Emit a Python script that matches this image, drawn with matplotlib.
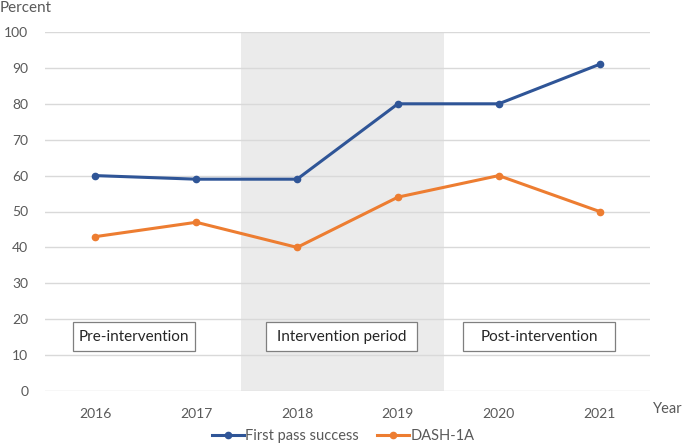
import matplotlib.pyplot as plt
from matplotlib.patches import Rectangle

plt.rcParams['font.family'] = ['Lato', 'DejaVu Sans']

# Data
years = ["2016", "2017", "2018", "2019", "2020", "2021"]
first_pass = [60, 59, 59, 80, 80, 91]
dash_1a = [43, 47, 40, 54, 60, 50]
yticks = list(range(0, 101, 10))
period_labels = ["Pre-intervention", "Intervention period", "Post-intervention"]

BLUE = "#2F5597"
ORANGE = "#ED7D31"
GRID = "#D9D9D9"
TEXT = "#595959"

W, H = 685, 446
fig = plt.figure(figsize=(W / 100, H / 100), dpi=100)
ax = fig.add_axes([45 / W, (H - 391) / H, (650 - 45) / W, (391 - 32) / H])

x = range(len(years))

# Shaded intervention period
ax.add_patch(Rectangle((1.44, 0), 2.02, 100, facecolor="#EBEBEB",
                       edgecolor="none", zorder=0))

# Lines
ax.plot(x, first_pass, color=BLUE, lw=2.2, marker="o", ms=4.5,
        label="First pass success", zorder=3)
ax.plot(x, dash_1a, color=ORANGE, lw=2.2, marker="o", ms=4.5,
        label="DASH-1A", zorder=3)

# Axes styling
ax.set_xlim(-0.5, 5.5)
ax.set_ylim(0, 100)
ax.set_yticks(yticks)
ax.set_xticks(list(x))
ax.set_xticklabels(years)
ax.tick_params(axis="both", length=0, labelsize=10, colors=TEXT)
ax.tick_params(axis="x", pad=12)
ax.tick_params(axis="y", pad=12)
ax.grid(axis="y", color=GRID, lw=1, zorder=1)
ax.set_axisbelow(True)
for s in ax.spines.values():
    s.set_visible(False)

# Period boxes
box_x = [0.38, 2.44, 4.40]
box_w = [1.21, 1.49, 1.50]
for bx, bw, lab in zip(box_x, box_w, period_labels):
    ax.add_patch(Rectangle((bx - bw / 2, 11.1), bw, 8.0, facecolor="white",
                           edgecolor="#7F7F7F", lw=0.9, zorder=4))
    ax.text(bx, 15.1, lab, ha="center", va="center", fontsize=11,
            color="#262626", zorder=5)

# Axis titles
fig.text(0 / W, 1 - 8 / H, "Percent", ha="left", va="center",
         fontsize=11, color=TEXT)
fig.text(683 / W, 1 - 409 / H, "Year", ha="right", va="center",
         fontsize=10.5, color=TEXT)

# Legend
fig.legend(loc="center", bbox_to_anchor=(343 / W, 1 - 436 / H), ncol=2,
           frameon=False, fontsize=10.5, labelcolor=TEXT,
           handlelength=2.2, handletextpad=0.1, columnspacing=1.2)

fig.savefig("out.png", dpi=100)
